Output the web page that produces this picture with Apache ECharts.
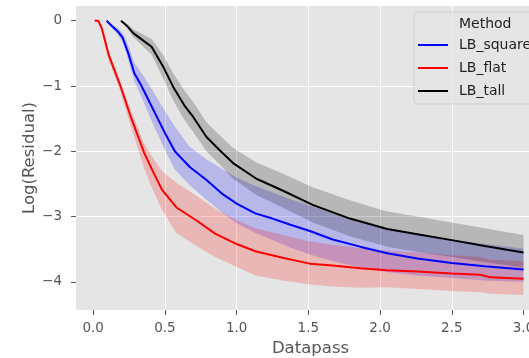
<!DOCTYPE html>
<html>
<head>
<meta charset="utf-8">
<script src="https://cdn.jsdelivr.net/npm/echarts@6.0.0/dist/echarts.min.js"></script>
<style>
  html, body { margin: 0; padding: 0; background: #fff; }
  #chart { width: 529px; height: 358px; }
</style>
</head>
<body>
<div id="chart"></div>
<script>
  // tick values shown on the axes
  var xTicks = [0, 0.5, 1.0, 1.5, 2.0, 2.5, 3.0];
  var yTicks = [-4, -3, -2, -1, 0];

  // LB_square (blue): datapass, mean, band top, band bottom
  var blueX = [0.093, 0.13, 0.17, 0.205, 0.245, 0.286, 0.337, 0.40, 0.45, 0.50, 0.569, 0.673, 0.79, 0.905, 1.0, 1.13, 1.25, 1.37, 1.51, 1.67, 1.86, 2.05, 2.26, 2.5, 2.73, 3.0];
  var blueMean = [0, -0.08, -0.16, -0.26, -0.5, -0.8, -1.0, -1.28, -1.5, -1.72, -2.0, -2.24, -2.44, -2.66, -2.8, -2.95, -3.03, -3.12, -3.22, -3.35, -3.46, -3.56, -3.64, -3.71, -3.76, -3.81];
  var blueHi = [0, -0.05, -0.11, -0.19, -0.38, -0.64, -0.8, -1.02, -1.2, -1.38, -1.62, -1.93, -2.12, -2.28, -2.4, -2.53, -2.63, -2.73, -2.83, -2.95, -3.07, -3.18, -3.26, -3.35, -3.42, -3.49];
  var blueLo = [0, -0.11, -0.21, -0.33, -0.6, -0.93, -1.17, -1.5, -1.74, -1.98, -2.28, -2.52, -2.74, -2.95, -3.1, -3.25, -3.36, -3.47, -3.58, -3.68, -3.78, -3.85, -3.9, -3.94, -3.98, -4.0];

  // LB_flat (red)
  var redX = [0.01, 0.035, 0.06, 0.11, 0.15, 0.19, 0.26, 0.355, 0.41, 0.48, 0.58, 0.72, 0.85, 1.0, 1.13, 1.32, 1.51, 1.67, 1.86, 2.05, 2.26, 2.5, 2.7, 2.77, 3.0];
  var redMean = [0, 0, -0.12, -0.54, -0.77, -1.0, -1.46, -2.02, -2.28, -2.59, -2.86, -3.06, -3.26, -3.42, -3.53, -3.63, -3.72, -3.75, -3.79, -3.82, -3.84, -3.87, -3.89, -3.93, -3.95];
  var redHi = [0, 0, -0.07, -0.47, -0.7, -0.93, -1.36, -1.88, -2.08, -2.3, -2.48, -2.68, -2.88, -3.05, -3.18, -3.28, -3.38, -3.43, -3.48, -3.52, -3.55, -3.59, -3.62, -3.66, -3.68];
  var redLo = [0, 0, -0.17, -0.61, -0.85, -1.09, -1.6, -2.26, -2.56, -2.9, -3.25, -3.45, -3.62, -3.77, -3.9, -3.98, -4.04, -4.07, -4.09, -4.08, -4.11, -4.14, -4.16, -4.18, -4.2];

  // LB_tall (black)
  var blackX = [0.194, 0.24, 0.279, 0.34, 0.407, 0.487, 0.557, 0.636, 0.696, 0.79, 0.88, 0.975, 1.138, 1.32, 1.53, 1.79, 2.05, 2.26, 2.5, 2.73, 3.0];
  var blackMean = [0, -0.09, -0.19, -0.29, -0.40, -0.70, -1.01, -1.3, -1.47, -1.78, -1.98, -2.18, -2.42, -2.6, -2.82, -3.03, -3.19, -3.27, -3.36, -3.45, -3.55];
  var blackHi = [0, -0.06, -0.13, -0.2, -0.28, -0.52, -0.8, -1.07, -1.24, -1.56, -1.75, -1.95, -2.17, -2.34, -2.55, -2.75, -2.92, -3.0, -3.09, -3.18, -3.28];
  var blackLo = [0, -0.12, -0.25, -0.38, -0.52, -0.88, -1.22, -1.52, -1.70, -2.0, -2.2, -2.42, -2.67, -2.86, -3.09, -3.3, -3.46, -3.54, -3.62, -3.7, -3.78];

  var font = 'DejaVu Sans';

  function pairs(xs, ys) {
    return xs.map(function (x, i) { return [x, ys[i]]; });
  }

  // line for the mean
  function meanLine(name, xs, ys, color) {
    return {
      name: name,
      type: 'line',
      data: pairs(xs, ys),
      color: color,
      showSymbol: false,
      symbol: 'none',
      z: 3,
      lineStyle: { width: 2, color: color },
      emphasis: { disabled: true }
    };
  }

  // shaded confidence band, one polygon through the axes' coords
  function band(xs, lo, hi, fill) {
    return {
      type: 'custom',
      silent: true,
      z: 1,
      data: xs.map(function (x, i) { return [x, lo[i], hi[i]]; }),
      encode: { x: 0, y: [1, 2] },
      renderItem: function (params, api) {
        if (params.dataIndex !== 0) return;
        var pts = [];
        for (var i = 0; i < xs.length; i++) pts.push(api.coord([xs[i], hi[i]]));
        for (var j = xs.length - 1; j >= 0; j--) pts.push(api.coord([xs[j], lo[j]]));
        return { type: 'polygon', shape: { points: pts }, style: { fill: fill } };
      }
    };
  }

  var chart = echarts.init(document.getElementById('chart'), null, { renderer: 'canvas' });

  chart.setOption({
    animation: false,
    backgroundColor: '#fff',
    grid: {
      left: 76, top: 6, right: -16, bottom: 48,
      outerBoundsMode: 'none',
      containLabel: false,
      show: true, backgroundColor: '#E5E5E5', borderWidth: 0
    },
    xAxis: {
      type: 'value',
      min: -0.12, max: 3.15,
      splitNumber: 6,
      name: 'Datapass',
      nameLocation: 'middle',
      nameGap: 30,
      nameMoveOverlap: false,
      nameTextStyle: { fontFamily: font, fontSize: 16.5, color: '#555' },
      axisLine: { show: false, onZero: false },
      axisTick: { show: true, length: 5, lineStyle: { color: '#555', width: 1 }, customValues: xTicks },
      axisLabel: {
        fontFamily: font, fontSize: 13.5, color: '#555', margin: 11,
        customValues: xTicks,
        formatter: function (v) { return v.toFixed(1); }
      },
      splitLine: { show: true, showMinLine: false, showMaxLine: false, lineStyle: { color: '#fff', width: 1 } }
    },
    yAxis: {
      type: 'value',
      min: -4.43, max: 0.225,
      name: 'Log(Residual)',
      nameLocation: 'middle',
      nameGap: 38,
      nameMoveOverlap: false,
      nameTextStyle: { fontFamily: font, fontSize: 16.5, color: '#555' },
      axisLine: { show: false, onZero: false },
      axisTick: { show: true, length: 5, lineStyle: { color: '#555', width: 1 }, customValues: yTicks },
      axisLabel: {
        fontFamily: font, fontSize: 13.5, color: '#555', margin: 14,
        customValues: yTicks,
        formatter: function (v) { return v < 0 ? '\u2212' + Math.abs(v) : String(v); }
      },
      splitLine: { show: true, showMinLine: false, showMaxLine: false, lineStyle: { color: '#fff', width: 1 } }
    },
    legend: {
      data: ['LB_square', 'LB_flat', 'LB_tall'],
      orient: 'vertical',
      left: 418, top: 38,
      padding: 0,
      itemWidth: 30, itemHeight: 2,
      itemGap: 9,
      icon: 'rect',
      selectedMode: false,
      z: 5,
      textStyle: { fontFamily: font, fontSize: 14, color: '#222', padding: [0, 0, 0, 6] }
    },
    graphic: [
      {
        type: 'rect', z: 4,
        shape: { x: 414, y: 12, width: 150, height: 92, r: 3 },
        style: { fill: 'rgba(229,229,229,0.8)', stroke: 'rgba(204,204,204,0.8)', lineWidth: 1 }
      },
      {
        type: 'text', z: 5,
        x: 459, y: 24,
        style: { text: 'Method', fontFamily: font, fontSize: 14, fill: '#222', verticalAlign: 'middle' }
      }
    ],
    series: [
      band(blueX, blueLo, blueHi, 'rgba(0,0,255,0.2)'),
      band(redX, redLo, redHi, 'rgba(255,0,0,0.2)'),
      band(blackX, blackLo, blackHi, 'rgba(0,0,0,0.2)'),
      meanLine('LB_square', blueX, blueMean, '#0000FF'),
      meanLine('LB_flat', redX, redMean, '#FF0000'),
      meanLine('LB_tall', blackX, blackMean, '#000000')
    ]
  });

  window.addEventListener('resize', function () { chart.resize(); });
</script>
</body>
</html>
